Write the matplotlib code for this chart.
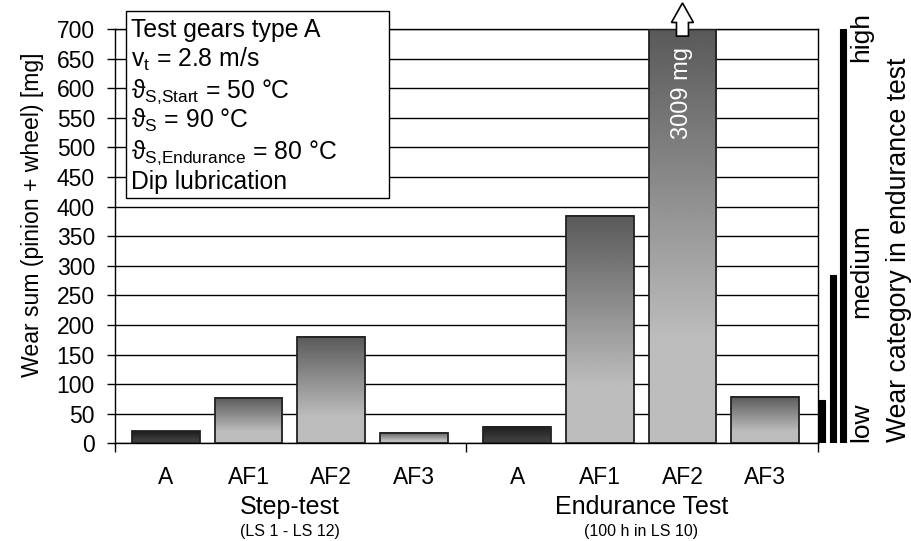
import numpy as np
import matplotlib.pyplot as plt
import matplotlib.transforms as mtransforms
from matplotlib.patches import Rectangle, FancyArrow

plt.rcParams['font.family'] = ['Liberation Sans', 'DejaVu Sans']
plt.rcParams['mathtext.fontset'] = 'custom'
plt.rcParams['mathtext.rm'] = 'Liberation Sans'
plt.rcParams['mathtext.it'] = 'Liberation Sans:italic'
plt.rcParams['mathtext.fallback'] = 'stixsans'

# data
categories = ['A', 'AF1', 'AF2', 'AF3']
step_wear = [20, 77, 180, 17]
endurance_wear = [28, 384, 3009, 79]
groups = ['Step-test', 'Endurance Test']
group_notes = ['(LS 1 - LS 12)', '(100 h in LS 10)']
wear_classes = ['low', 'medium', 'high']
wear_class_limits = [73, 285, 700]
wear_label_start = [2, 212, 645]
y_ticks = np.arange(0, 701, 50)
info_lines = ['Test gears type A',
              r'v$_\mathrm{t}$ = 2.8 m/s',
              r'ϑ$_\text{S,Start}$ = 50 °C',
              r'ϑ$_\text{S}$ = 90 °C',
              r'ϑ$_\text{S,Endurance}$ = 80 °C',
              'Dip lubrication']

W, H = 912, 541
ymax = 700

fig = plt.figure(figsize=(W / 100, H / 100), dpi=100)
ax = fig.add_axes([115 / W, 1 - 443.3 / H, 703 / W, 414.3 / H])

pos_step = np.arange(len(step_wear))
pos_end = np.arange(len(endurance_wear)) + 4.25
positions = np.concatenate([pos_step, pos_end])
values = step_wear + endurance_wear
labels = categories * 2
heights = [min(v, ymax) for v in values]

bars = ax.bar(positions, heights, width=0.82, fill=False,
              edgecolor='#222222', linewidth=1.3, zorder=3)

# vertical gradient inside each bar, dark at the top
t = np.linspace(0, 1, 256)[:, None]
ramp = np.clip((t - 0.25) / 0.75, 0, 1)
for b, lab in zip(bars, labels):
    if lab == 'A':
        dark, light = 0.11, 0.24
    else:
        dark, light = 0.35, 0.74
    shade = light - (light - dark) * ramp
    x0 = b.get_x()
    ax.imshow(shade, extent=(x0, x0 + b.get_width(), 0, b.get_height()),
              origin='lower', aspect='auto', cmap='gray', vmin=0, vmax=1,
              interpolation='bilinear', zorder=2)

# value beyond the axis: label and arrow
for x, v in zip(positions, values):
    if v > ymax:
        ax.text(x, ymax - 30, f'{v} mg', rotation=90, ha='center', va='top',
                color='white', fontsize=17, zorder=4)
        ax.add_patch(FancyArrow(x, ymax - 12, 0, 56, width=0.145,
                                head_width=0.266, head_length=33,
                                length_includes_head=True, facecolor='white',
                                edgecolor='black', linewidth=1.2,
                                clip_on=False, zorder=5))

xlim = (-0.616, 7.89)
ax.set_xlim(xlim)
ax.set_ylim(0, ymax)
ax.set_yticks(y_ticks)
ax.yaxis.grid(True, color='black', linewidth=1)
ax.set_axisbelow(True)
for s in ax.spines.values():
    s.set_linewidth(1)
ax.tick_params(axis='y', direction='out', length=5.8, width=1, pad=8.6,
               labelsize=16.5)
ax.set_xticks(positions, labels=labels)
ax.tick_params(axis='x', which='major', length=0, pad=16.3, labelsize=16.5)
ax.set_xticks([xlim[0], (pos_step[-1] + pos_end[0]) / 2, xlim[1]], minor=True)
ax.tick_params(axis='x', which='minor', direction='out', length=6.5, width=1)

trans = mtransforms.blended_transform_factory(ax.transData, ax.transAxes)
for g, note, pos in zip(groups, group_notes, [pos_step, pos_end]):
    ax.text(pos.mean(), -0.1707, g, transform=trans, ha='center',
            va='baseline', fontsize=18)
    ax.text(pos.mean(), -0.224, note, transform=trans, ha='center',
            va='baseline', fontsize=11.5)

fig.text(39.5 / W, 1 - 215 / H, 'Wear sum (pinion + wheel) [mg]',
         rotation=90, rotation_mode='anchor', ha='center', va='baseline',
         fontsize=16.6)

# wear category scale on the right
axc = fig.add_axes([818 / W, 1 - 443.3 / H, 52 / W, 414.3 / H])
axc.set_xlim(-0.41, 4.54)
axc.set_ylim(0, ymax)
axc.axis('off')
axc.bar(np.arange(len(wear_classes)), wear_class_limits, width=0.55,
        color='black', edgecolor='black', linewidth=0.8)
tc = mtransforms.blended_transform_factory(axc.transAxes, axc.transData)
for name, y0 in zip(wear_classes, wear_label_start):
    axc.text(0.96, y0, name, transform=tc, rotation=90,
             rotation_mode='anchor', ha='left', va='baseline', fontsize=19,
             clip_on=False)
fig.text(906 / W, 1 - 442 / H, 'Wear category in endurance test',
         rotation=90, rotation_mode='anchor', ha='left', va='baseline',
         fontsize=19.2)

# info box
fig.add_artist(Rectangle((126 / W, 1 - 198 / H), (389 - 126) / W,
                         (198 - 11) / H, transform=fig.transFigure,
                         facecolor='white', edgecolor='black', linewidth=1,
                         zorder=10))
for i, line in enumerate(info_lines):
    fig.text(131.5 / W, 1 - (36.7 + 30.5 * i) / H, line, ha='left',
             va='baseline', fontsize=17.8, zorder=11)

fig.savefig('out.png', dpi=100)
